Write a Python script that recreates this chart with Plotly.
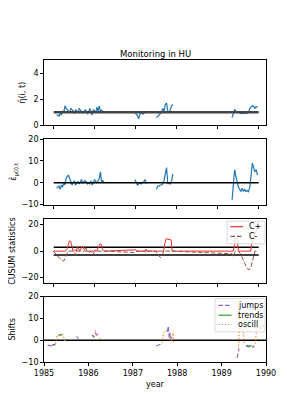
import numpy as np
import plotly.graph_objects as go

# ---------------- data ----------------
# time grids (years) for the monitored segments (panels 1-3)
seg_a_x = np.round(1985.15 + 0.028 * np.arange(41), 3)
seg_b_x = np.round(1987.00 + 0.03 * np.arange(10), 3)
seg_c_x = np.round(1987.51 + 0.03 * np.arange(14), 3)
seg_d_x = np.round(1989.30 + 0.03 * np.arange(21), 3)

eta_a = [0.75, 0.8, 0.7, 0.9, 0.8, 1.1, 1.0, 1.5, 1.3, 1.2,
         1.1, 1.0, 1.3, 1.2, 1.1, 0.9, 1.2, 1.1, 1.0, 1.3,
         1.2, 1.1, 0.95, 1.0, 1.2, 1.1, 0.9, 1.0, 1.3, 1.0,
         0.8, 1.2, 1.1, 1.0, 1.4, 1.1, 1.5, 1.0, 1.2, 1.0, 0.95]
eta_b = [1.0, 0.9, 0.75, 0.5, 0.9, 1.0, 0.85, 0.9, 1.05, 0.95]
eta_c = [0.6, 0.75, 0.8, 0.9, 1.0, 1.3, 1.1, 1.6, 1.7, 1.0, 1.05, 1.2, 1.5, 1.6]
eta_d = [0.6, 0.9, 1.2, 1.1, 1.05, 1.0, 0.95, 0.9, 0.95, 0.9, 0.95,
         0.9, 0.95, 1.0, 1.3, 1.4, 1.5, 1.45, 1.3, 1.45, 1.4]

eps_a = [-2.5, -2, -1.5, -3, -1, -2, 0, -1, 2, 3,
         3.5, 2, 0, -1, 0, 1, -1, 0, 0.5, -0.5,
         1, 1.5, 0, 0.5, 1, 0.5, -0.5, 0, -0.5, 1,
         -1, 0, 1.5, 0.5, 0, 1, 2, 5, 0, 1, 0.5]
eps_b = [1.5, 0.5, -1, -0.5, 0, -0.5, 0, 0.5, 1.5, -0.5]
eps_c = [-3, -1.5, -1.5, -1, -1, -0.5, 1, 5, 7, -0.5, 0, -0.5, 1, 4]
eps_d = [-8, 0, 6, 3, 0, -2, -3, -4, -2.5, -4, -3, -4, -3.5, -4,
         -2, 5, 9, 7, 5, 6, 3.5]

monitor_start, monitor_end = 1985.08, 1989.93
eta_ref = 1.0
eps_ref = 0.0
cusum_h = 3.0

cus_t = [1985.07, 1985.10, 1985.15, 1985.20, 1985.25, 1985.32, 1985.36, 1985.39,
         1985.42, 1985.45, 1985.48, 1985.51, 1985.54, 1985.58, 1985.60, 1985.62,
         1985.64, 1985.67, 1985.70, 1985.72, 1985.75, 1985.78, 1985.80, 1985.84,
         1985.87, 1985.92, 1985.97, 1986.00, 1986.03, 1986.06, 1986.10, 1986.15,
         1986.18, 1986.21, 1986.24, 1986.27, 1987.02, 1987.05, 1987.24, 1987.26,
         1987.28, 1987.50, 1987.53, 1987.58, 1987.61, 1987.65, 1987.68, 1987.71,
         1987.74, 1987.78, 1987.82, 1987.86, 1987.88, 1989.30, 1989.33, 1989.36,
         1989.38, 1989.42, 1989.45, 1989.50, 1989.55, 1989.60, 1989.65, 1989.70,
         1989.74, 1989.77, 1989.80, 1989.84, 1989.88, 1989.90]
c_plus = [0, 0, 0, 0, 0, 0, 0, 1,
          5, 7.5, 7.5, 4, 0, 1, 0, 0,
          3, 2, 0, 2, 3.5, 3.5, 1, 2.5,
          0, 0, 0, 0, 0, 1, 0, 4,
          5.5, 5, 1, 0, 1, 0, 0, 1.5,
          0, 0, 0, 0, 0, 0, 0, 6,
          9.5, 9, 8.5, 8.5, 0, 0, 0, 5,
          10, 10, 0, 0, 0, 0, 0, 0,
          0, 6, 10, 13, 16, 17]
c_minus = [0, -1, -3, -5, -6.5, -7.5, -5, -2,
           0, 0, 0, 0, 0, -1, -3, 0,
           0, 0, 0, 0, 0, 0, 0, 0,
           0, -1, 0, -2.5, -1.5, 0, 0, 0,
           0, 0, 0, 0, -1, 0, 0, -1,
           0, 0, -2, -4.5, -5, -3, 0, 0,
           0, 0, 0, 0, 0, -2, -4, -1,
           0, 0, 0, -2, -6, -10, -13, -14,
           -13, -9, -4, 0, 0, 0]

jumps_t = [1985.08, 1985.12, 1985.16, 1985.20, 1985.23, 1985.26, None,
           1985.36, 1985.40, None,
           1985.73, 1985.76, 1985.78, None,
           1986.08, 1986.12, 1986.16, 1986.20, 1986.23, None,
           1987.53, 1987.57, 1987.62, 1987.66, None,
           1987.78, 1987.80, 1987.82, 1987.84, 1987.86, None,
           1989.35, 1989.37, 1989.39, None,
           1989.55, 1989.60, 1989.65, 1989.70, 1989.74, None,
           1989.85, 1989.88, 1989.92, 1989.95]
jumps_v = [-2.5, -2.2, -2.6, -1.8, -2.3, -1.5, None,
           2.5, 2.4, None,
           1.8, 1.2, 0.8, None,
           2.5, 1.5, 3.5, 2.0, 3.0, None,
           -2.6, -2.2, -1.8, -1.5, None,
           4.0, 6.5, 1.0, 3.5, 0.5, None,
           -8, -5, -4, None,
           -2.5, -3.0, -2.8, -3.2, -2.5, None,
           6.0, 5.0, 7.0, 6.0]

trends_t = [1985.18, 1985.22, None, 1985.33, 1985.40, None,
            1987.74, 1987.76, None, 1989.55, 1989.62, 1989.68]
trends_v = [-2.2, -2.0, None, 2.5, 2.6, None,
            4.5, 4.2, None, -2.3, -2.6, -2.4]

oscill_t = [1985.26, 1985.30, 1985.33, None, 1985.42, 1985.45, 1985.48, None,
            1986.15, 1986.18, None, 1986.26, 1986.28, None,
            1987.66, 1987.70, 1987.73, None, 1987.86, 1987.89, 1987.91, 1987.92, None,
            1989.38, 1989.40, 1989.43, 1989.48, 1989.51, None,
            1989.76, 1989.79, 1989.82]
oscill_v = [-1.5, 2.5, 2.0, None, 3.0, 1.0, -1.0, None,
            4.5, 2.0, None, 1.0, 0.5, None,
            -1.0, 3.5, 4.2, None, -0.5, 3.5, 4.0, -1.0, None,
            -4, 6, 5.5, 5, -1.5, None,
            -1.5, 6, 5]

year_ticks = [1985, 1986, 1987, 1988, 1989, 1990]


def join(segs):
    out = []
    for i, s in enumerate(segs):
        if i:
            out.append(None)
        out.extend(list(s))
    return out


mon_x = join([seg_a_x, seg_b_x, seg_c_x, seg_d_x])
eta = join([eta_a, eta_b, eta_c, eta_d])
eps = join([eps_a, eps_b, eps_c, eps_d])

# ---------------- figure ----------------
W, H = 287, 410
FONT = "DejaVu Sans"
BLUE = "#1f77b4"
RED = "#e8302a"
BROWN = "#8c564b"
PURPLE = "#9467bd"
GREEN = "#2ca02c"
ORANGE = "#ff7f0e"
LW = 1.2
DASHED = "4.5px,2px"
DOTTED = "1.2px,2px"

fig = go.Figure()

# panel 1
fig.add_trace(go.Scatter(x=mon_x, y=eta, mode="lines", line=dict(color=BLUE, width=LW),
                         xaxis="x", yaxis="y"))
fig.add_trace(go.Scatter(x=[monitor_start, monitor_end], y=[eta_ref, eta_ref], mode="lines",
                         line=dict(color="#444444", width=2.5), xaxis="x", yaxis="y"))
# panel 2
fig.add_trace(go.Scatter(x=mon_x, y=eps, mode="lines", line=dict(color=BLUE, width=LW),
                         xaxis="x2", yaxis="y2"))
fig.add_trace(go.Scatter(x=[monitor_start, monitor_end], y=[eps_ref, eps_ref], mode="lines",
                         line=dict(color="black", width=1.5), xaxis="x2", yaxis="y2"))
# panel 3
for h in (cusum_h, -cusum_h):
    fig.add_trace(go.Scatter(x=[monitor_start, monitor_end], y=[h, h], mode="lines",
                             line=dict(color="black", width=1.5), xaxis="x3", yaxis="y3"))
fig.add_trace(go.Scatter(x=cus_t, y=c_plus, mode="lines", name="C+",
                         line=dict(color=RED, width=1), xaxis="x3", yaxis="y3"))
fig.add_trace(go.Scatter(x=cus_t, y=c_minus, mode="lines", name="C-",
                         line=dict(color=BROWN, width=1, dash=DASHED), xaxis="x3", yaxis="y3"))
# panel 4
fig.add_trace(go.Scatter(x=[year_ticks[0], year_ticks[-1]], y=[0, 0], mode="lines",
                         line=dict(color="black", width=1.5), xaxis="x4", yaxis="y4"))
fig.add_trace(go.Scatter(x=jumps_t, y=jumps_v, mode="lines", name="jumps",
                         line=dict(color=PURPLE, width=LW, dash=DASHED), xaxis="x4", yaxis="y4"))
fig.add_trace(go.Scatter(x=trends_t, y=trends_v, mode="lines", name="trends",
                         line=dict(color=GREEN, width=LW), xaxis="x4", yaxis="y4"))
fig.add_trace(go.Scatter(x=oscill_t, y=oscill_v, mode="lines", name="oscill",
                         line=dict(color=ORANGE, width=LW, dash=DOTTED), xaxis="x4", yaxis="y4"))

L, R = 36, 258
plot_w = R - L


def px_x(px):
    return (px - L) / plot_w


def px_y(py):
    return 1 - py / H


def ydom(top_px, bot_px):
    return [px_y(bot_px), px_y(top_px)]


axis_common = dict(showline=True, mirror=True, linecolor="black", linewidth=0.8,
                   ticks="outside", ticklen=3, tickwidth=0.8, tickcolor="black",
                   showgrid=False, zeroline=False, tickfont=dict(size=8, color="black"))

px_per_year = (250.7 - 45.7) / (monitor_end - monitor_start)
xr = [monitor_start - (45.7 - L) / px_per_year, monitor_end + (R - 250.7) / px_per_year]
mon_ticks = list(np.linspace(monitor_start, monitor_end, 6))

top_x = dict(axis_common, range=xr, tickvals=mon_ticks, showticklabels=False)

# --- hand-made compact legends (matplotlib style) ---
shapes = []
annotations = [dict(text="Monitoring in HU", x=0.5, xref="paper", y=px_y(43),
                    yref="paper", showarrow=False, font=dict(size=8.5),
                    xanchor="center", yanchor="middle")]


def add_legend(box, entries, x0, x1, xt):
    bx0, by0, bx1, by1 = box
    shapes.append(dict(type="rect", xref="paper", yref="paper",
                       x0=px_x(bx0), x1=px_x(bx1), y0=px_y(by1), y1=px_y(by0),
                       fillcolor="rgba(255,255,255,0.8)",
                       line=dict(color="#d0d0d0", width=0.8), layer="above"))
    for name, py, color, dash in entries:
        shapes.append(dict(type="line", xref="paper", yref="paper",
                           x0=px_x(x0), x1=px_x(x1), y0=px_y(py), y1=px_y(py),
                           line=dict(color=color, width=LW, dash=dash), layer="above"))
        annotations.append(dict(text=name, xref="paper", yref="paper", x=px_x(xt),
                                y=px_y(py), xanchor="left", yanchor="middle",
                                showarrow=False, font=dict(size=8)))


add_legend((219, 214, 257, 237),
           [("C+", 219.5, RED, "solid"), ("C-", 229.5, BROWN, DASHED)],
           222.5, 235, 239)
add_legend((207, 293, 257, 327),
           [("jumps", 300, PURPLE, DASHED), ("trends", 310, GREEN, "solid"),
            ("oscill", 319.5, ORANGE, DOTTED)],
           210.5, 223.5, 228)

fig.update_layout(
    width=W, height=H,
    margin=dict(l=L, r=W - R, t=0, b=0),
    paper_bgcolor="white", plot_bgcolor="white",
    showlegend=False,
    font=dict(family=FONT, size=8, color="black"),
    xaxis=dict(top_x, anchor="y", domain=[0, 1]),
    xaxis2=dict(top_x, anchor="y2", domain=[0, 1], matches="x"),
    xaxis3=dict(top_x, anchor="y3", domain=[0, 1], matches="x"),
    xaxis4=dict(axis_common, anchor="y4", domain=[0, 1], range=[1985, 1990],
                tickvals=year_ticks, ticktext=[str(y) for y in year_ticks],
                title=dict(text="year", font=dict(size=8), standoff=4)),
    yaxis=dict(axis_common, anchor="x", domain=ydom(49, 116), range=[0, 5],
               tickvals=[0, 2, 4],
               title=dict(text="η̂(i, t)", font=dict(size=8), standoff=6)),
    yaxis2=dict(axis_common, anchor="x2", domain=ydom(130, 197), range=[-10, 20],
                tickvals=[-10, 0, 10, 20],
                title=dict(text="ε̂<sub>μ(i),t</sub>", font=dict(size=8), standoff=6)),
    yaxis3=dict(axis_common, anchor="x3", domain=ydom(212, 277), range=[-24, 24],
                tickvals=[-20, 0, 20],
                title=dict(text="CUSUM statistics", font=dict(size=8), standoff=4)),
    yaxis4=dict(axis_common, anchor="x4", domain=ydom(291, 358), range=[-10, 20],
                tickvals=[-10, 0, 10, 20],
                title=dict(text="Shifts", font=dict(size=8), standoff=4)),
    shapes=shapes,
    annotations=annotations,
)

fig.write_html("out.html")
